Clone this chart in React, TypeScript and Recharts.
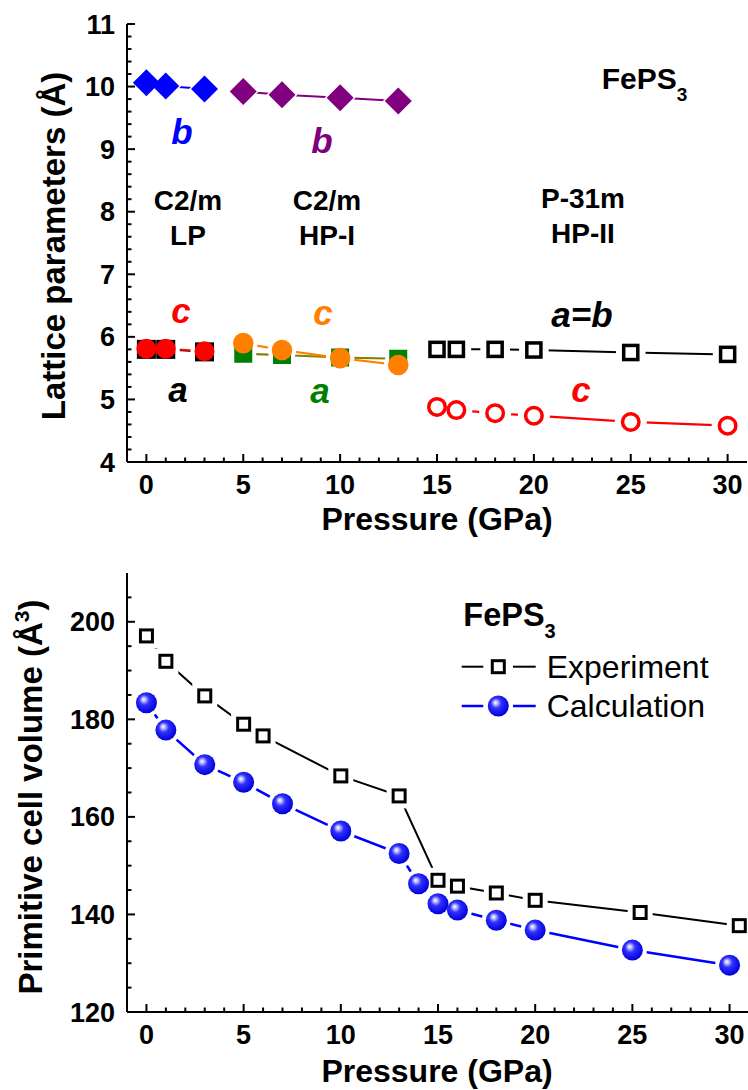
import React from "react";
import { LineChart, Line, XAxis, YAxis, Legend } from "recharts";

// lattice parameters (Å) against pressure (GPa)
const lpP = [0, 1, 3];
const lpA = [5.8, 5.8, 5.76];
const lpB = [10.06, 10.01, 9.96];
const lpC = [5.81, 5.81, 5.77];

const hp1P = [5, 7, 10, 13];
const hp1A = [5.73, 5.71, 5.67, 5.65];
const hp1B = [9.92, 9.87, 9.82, 9.77];
const hp1C = [5.9, 5.79, 5.66, 5.55];

const hp2P = [15, 16, 18, 20, 25, 30];
const hp2AB = [5.8, 5.8, 5.8, 5.79, 5.75, 5.72];
const hp2C = [4.88, 4.83, 4.78, 4.74, 4.64, 4.58];

// primitive cell volume (Å³)
const expP = [0, 1, 3, 5, 6, 10, 13, 15, 16, 18, 20, 25.4, 30.5];
const expV = [197.1, 191.9, 184.8, 179.0, 176.6, 168.4, 164.3, 147.0, 145.8, 144.4, 142.9, 140.4, 137.7];
const calcP = [0, 1, 3, 5, 7, 10, 13, 14, 15, 16, 18, 20, 25, 30];
const calcV = [183.4, 177.8, 170.7, 167.1, 162.7, 157.1, 152.5, 146.3, 142.2, 140.9, 138.8, 136.8, 132.7, 129.6];

const xMajor = [0, 5, 10, 15, 20, 25, 30];
const latticeMajor = [4, 5, 6, 7, 8, 9, 10, 11];
const volumeMajor = [120, 140, 160, 180, 200];
const legendNames = ["Experiment", "Calculation"];

const xTicks = Array.from({ length: 31 }, (_, i) => i);
const latticeTicks = Array.from({ length: 36 }, (_, i) => +(4 + i * 0.2).toFixed(1));
const volumeTicks = Array.from({ length: 18 }, (_, i) => 120 + i * 5);

const FONT = "'Liberation Sans', Arial, Helvetica, sans-serif";
const toPts = (ps: number[], vs: number[]) => ps.map((p, i) => ({ p, v: vs[i] }));
const isMajor = (v: number, majors: number[]) => majors.some((m) => Math.abs(m - v) < 1e-6);

type Shape = "diamond" | "disc" | "square" | "openSquare" | "openCircle" | "sphere";
interface Series {
  name: string;
  p: number[];
  v: number[];
  color: string;
  line: string;
  width: number;
  shape: Shape;
  size: number;
  sw: number;
  gap: number;
}

const topSeries: Series[] = [
  { name: "lpB", p: lpP, v: lpB, color: "#0000ff", line: "#0000ff", width: 2, shape: "diamond", size: 13.5, sw: 0, gap: 2 },
  { name: "hp1B", p: hp1P, v: hp1B, color: "#800080", line: "#800080", width: 2, shape: "diamond", size: 13.5, sw: 0, gap: 2 },
  { name: "lpA", p: lpP, v: lpA, color: "#000000", line: "#000000", width: 2, shape: "square", size: 9.5, sw: 0, gap: 4 },
  { name: "lpC", p: lpP, v: lpC, color: "#ff0000", line: "#ff0000", width: 2.2, shape: "disc", size: 10, sw: 0, gap: 4 },
  { name: "hp1A", p: hp1P, v: hp1A, color: "#008000", line: "#808000", width: 2.2, shape: "square", size: 9, sw: 0, gap: 4 },
  { name: "hp1C", p: hp1P, v: hp1C, color: "#ff8000", line: "#ff8000", width: 2.2, shape: "disc", size: 10.3, sw: 0, gap: 4 },
  { name: "hp2AB", p: hp2P, v: hp2AB, color: "#000000", line: "#000000", width: 2, shape: "openSquare", size: 8.8, sw: 3.5, gap: 6 },
  { name: "hp2C", p: hp2P, v: hp2C, color: "#ff0000", line: "#ff0000", width: 2.2, shape: "openCircle", size: 10, sw: 3.5, gap: 6 },
];

const bottomSeries: Series[] = [
  { name: "calc", p: calcP, v: calcV, color: "#0000ff", line: "#0000ff", width: 2.5, shape: "sphere", size: 10.5, sw: 0, gap: 4 },
  { name: "exp", p: expP, v: expV, color: "#000000", line: "#000000", width: 2, shape: "openSquare", size: 7.5, sw: 3, gap: 5 },
];

function drawMarker(shape: Shape, cx: number, cy: number, size: number, color: string, sw: number, halo: number, grad = "sphereGrad") {
  const s = size + halo;
  if (halo > 0) {
    if (shape === "diamond") {
      return <polygon points={`${cx},${cy - s} ${cx + s},${cy} ${cx},${cy + s} ${cx - s},${cy}`} fill="#fff" />;
    }
    if (shape === "square" || shape === "openSquare") {
      return <rect x={cx - s} y={cy - s} width={2 * s} height={2 * s} fill="#fff" />;
    }
    return <circle cx={cx} cy={cy} r={s} fill="#fff" />;
  }
  switch (shape) {
    case "diamond":
      return <polygon points={`${cx},${cy - s} ${cx + s},${cy} ${cx},${cy + s} ${cx - s},${cy}`} fill={color} />;
    case "disc":
      return <circle cx={cx} cy={cy} r={s} fill={color} />;
    case "square":
      return <rect x={cx - s} y={cy - s} width={2 * s} height={2 * s} fill={color} />;
    case "openSquare": {
      const h = s - sw / 2;
      return <rect x={cx - h} y={cy - h} width={2 * h} height={2 * h} fill="#fff" stroke={color} strokeWidth={sw} />;
    }
    case "openCircle":
      return <circle cx={cx} cy={cy} r={s - sw / 2} fill="#fff" stroke={color} strokeWidth={sw} />;
    case "sphere":
      return <circle cx={cx} cy={cy} r={s} fill={`url(#${grad})`} />;
  }
}

// lines first, then white halos (the "gap to symbol" look), then the symbols
function renderSeries(list: Series[], xId: string, yId: string) {
  const lines = list.map((s) => (
    <Line
      key={`line-${s.name}`}
      xAxisId={xId}
      yAxisId={yId}
      data={toPts(s.p, s.v)}
      dataKey="v"
      stroke={s.line}
      strokeWidth={s.width}
      dot={false}
      activeDot={false}
      legendType="none"
      isAnimationActive={false}
    />
  ));
  const layer = (kind: "halo" | "mark") =>
    list.map((s) => (
      <Line
        key={`${kind}-${s.name}`}
        xAxisId={xId}
        yAxisId={yId}
        data={toPts(s.p, s.v)}
        dataKey="v"
        stroke="none"
        activeDot={false}
        legendType="none"
        isAnimationActive={false}
        dot={(d: any) => (
          <g key={`${kind}-${s.name}-${d.index}`}>
            {drawMarker(s.shape, d.cx, d.cy, s.size, s.color, s.sw, kind === "halo" ? s.gap : 0)}
          </g>
        )}
      />
    ));
  return [...lines, ...layer("halo"), ...layer("mark")];
}

const tickText = { fontFamily: FONT, fontWeight: 700, fontSize: 27, fill: "#000" } as const;

function BottomTick(props: any) {
  const { x, y, payload, majors } = props;
  const major = isMajor(payload.value, majors);
  return (
    <g>
      <line x1={x} x2={x} y1={y} y2={y - (major ? 8 : 4.5)} stroke="#000" strokeWidth={2} />
      {major && (
        <text x={x} y={y + 32} textAnchor="middle" {...tickText}>
          {payload.value}
        </text>
      )}
    </g>
  );
}

function TopTick(props: any) {
  const { x, y, payload, majors } = props;
  const major = isMajor(payload.value, majors);
  return <line x1={x} x2={x} y1={y} y2={y + (major ? 8 : 4.5)} stroke="#000" strokeWidth={2} />;
}

function LeftTick(props: any) {
  const { x, y, payload, majors } = props;
  const major = isMajor(payload.value, majors);
  return (
    <g>
      <line x1={x} x2={x + (major ? 8 : 4.5)} y1={y} y2={y} stroke="#000" strokeWidth={2} />
      {major && (
        <text x={x - 12} y={y + 9.5} textAnchor="end" {...tickText}>
          {payload.value}
        </text>
      )}
    </g>
  );
}

function RightTick(props: any) {
  const { x, y, payload, majors } = props;
  const major = isMajor(payload.value, majors);
  return <line x1={x} x2={x - (major ? 8 : 4.5)} y1={y} y2={y} stroke="#000" strokeWidth={2} />;
}

const axisLine = { stroke: "#000", strokeWidth: 2 };

function SphereDefs({ id }: { id: string }) {
  return (
    <defs>
      <radialGradient id={id} cx="45%" cy="42%" r="58%" fx="36%" fy="33%">
        <stop offset="0%" stopColor="#ffffff" />
        <stop offset="14%" stopColor="#c8c8ff" />
        <stop offset="42%" stopColor="#3030ff" />
        <stop offset="100%" stopColor="#0000d8" />
      </radialGradient>
    </defs>
  );
}

function VolumeLegend() {
  const rows = [
    { name: legendNames[0], y: 26.7, shape: "openSquare" as Shape, color: "#000000", size: 7.5, sw: 3, width: 2 },
    { name: legendNames[1], y: 66, shape: "sphere" as Shape, color: "#0000ff", size: 10.5, sw: 0, width: 2.5 },
  ];
  return (
    <svg width={270} height={92} style={{ display: "block" }}>
      <SphereDefs id="sphereGradLegend" />
      {rows.map((r) => (
        <g key={r.name}>
          <line x1={6.7} x2={28.3} y1={r.y} y2={r.y} stroke={r.color} strokeWidth={r.width} />
          <line x1={58} x2={80.7} y1={r.y} y2={r.y} stroke={r.color} strokeWidth={r.width} />
          {drawMarker(r.shape, 43.3, r.y, r.size, r.color, r.sw, 0, "sphereGradLegend")}
          <text x={91.7} y={r.y + 11} fontFamily={FONT} fontSize={32} fill="#000">
            {r.name}
          </text>
        </g>
      ))}
    </svg>
  );
}

const bold = { fontFamily: FONT, fontWeight: 700, fill: "#000" } as const;
const ital = { fontFamily: FONT, fontWeight: 700, fontStyle: "italic", fontSize: 35, textAnchor: "middle" } as const;

function Axes({ yDomain, yTicks, yMajors }: { yDomain: [number, number]; yTicks: number[]; yMajors: number[] }) {
  return null;
}

export default function App() {
  const xProps = {
    type: "number" as const,
    dataKey: "p",
    domain: [-1, 31] as [number, number],
    ticks: xTicks,
    interval: 0 as const,
    tickSize: 0,
    tickMargin: 0,
    axisLine,
  };
  return (
    <div style={{ position: "absolute", left: 0, top: 0, width: 748, height: 1090, background: "#fff" }}>
      <div style={{ position: "absolute", left: 0, top: 0 }}>
        <LineChart width={748} height={545} margin={{ top: 24, right: 1, bottom: 23, left: 0 }}>
          <XAxis xAxisId="b" {...xProps} height={60} tick={(t: any) => <BottomTick {...t} majors={xMajor} />} />
          <XAxis xAxisId="t" orientation="top" {...xProps} height={0} tick={(t: any) => <TopTick {...t} majors={xMajor} />} />
          <YAxis
            yAxisId="l"
            type="number"
            domain={[4, 11]}
            ticks={latticeTicks}
            interval={0}
            tickSize={0}
            tickMargin={0}
            width={127}
            axisLine={axisLine}
            tick={(t: any) => <LeftTick {...t} majors={latticeMajor} />}
          />
          <YAxis
            yAxisId="r"
            orientation="right"
            type="number"
            domain={[4, 11]}
            ticks={latticeTicks}
            interval={0}
            tickSize={0}
            tickMargin={0}
            width={0}
            axisLine={axisLine}
            tick={(t: any) => <RightTick {...t} majors={latticeMajor} />}
          />
          <Line
            xAxisId="t"
            yAxisId="r"
            data={toPts(hp2P, hp2AB)}
            dataKey="v"
            stroke="none"
            dot={false}
            activeDot={false}
            legendType="none"
            isAnimationActive={false}
          />
          {renderSeries(topSeries, "b", "l")}
        </LineChart>
      </div>

      <div style={{ position: "absolute", left: 0, top: 545 }}>
        <LineChart width={748} height={545} margin={{ top: 28, right: -1, bottom: 18, left: 0 }}>
          <SphereDefs id="sphereGrad" />
          <XAxis xAxisId="b" {...xProps} height={60} tick={(t: any) => <BottomTick {...t} majors={xMajor} />} />
          <XAxis xAxisId="t" orientation="top" {...xProps} height={0} tick={(t: any) => <TopTick {...t} majors={xMajor} />} />
          <YAxis
            yAxisId="l"
            type="number"
            domain={[120, 210]}
            ticks={volumeTicks}
            interval={0}
            tickSize={0}
            tickMargin={0}
            width={127}
            axisLine={axisLine}
            tick={(t: any) => <LeftTick {...t} majors={volumeMajor} />}
          />
          <YAxis
            yAxisId="r"
            orientation="right"
            type="number"
            domain={[120, 210]}
            ticks={volumeTicks}
            interval={0}
            tickSize={0}
            tickMargin={0}
            width={0}
            axisLine={axisLine}
            tick={(t: any) => <RightTick {...t} majors={volumeMajor} />}
          />
          <Line
            xAxisId="t"
            yAxisId="r"
            data={toPts(expP, expV)}
            dataKey="v"
            stroke="none"
            dot={false}
            activeDot={false}
            legendType="none"
            isAnimationActive={false}
          />
          {renderSeries(bottomSeries, "b", "l")}
          <Legend
            layout="horizontal"
            verticalAlign="middle"
            align="center"
            wrapperStyle={{ left: 455, top: 95, width: 270, height: 92 }}
            content={() => <VolumeLegend />}
          />
        </LineChart>
      </div>

      <svg width={748} height={1090} style={{ position: "absolute", left: 0, top: 0, pointerEvents: "none" }}>
        {/* axis titles */}
        <text {...bold} fontSize={33} x={65} y={246} textAnchor="middle" transform="rotate(-90, 65, 246)">
          Lattice parameters (Å)
        </text>
        <text {...bold} fontSize={32} x={437} y={530} textAnchor="middle">
          Pressure (GPa)
        </text>
        <text {...bold} fontSize={33} x={42} y={797} textAnchor="middle" transform="rotate(-90, 42, 797)">
          Primitive cell volume (Å
          <tspan fontSize={21} dy={-13}>
            3
          </tspan>
          <tspan dy={13}>)</tspan>
        </text>
        <text {...bold} fontSize={32} x={437} y={1082} textAnchor="middle">
          Pressure (GPa)
        </text>

        {/* compound labels */}
        <text {...bold} fontSize={30} x={601.7} y={89.3}>
          FePS<tspan fontSize={19} dy={12}>3</tspan>
        </text>
        <text {...bold} fontSize={32.5} x={463.3} y={626}>
          FePS<tspan fontSize={20} dy={12}>3</tspan>
        </text>

        {/* phase labels */}
        <text {...bold} fontSize={28} x={188} y={210} textAnchor="middle">C2/m</text>
        <text {...bold} fontSize={28} x={188} y={245} textAnchor="middle">LP</text>
        <text {...bold} fontSize={28} x={327} y={210} textAnchor="middle">C2/m</text>
        <text {...bold} fontSize={28} x={327} y={245} textAnchor="middle">HP-I</text>
        <text {...bold} fontSize={28} x={583} y={208.3} textAnchor="middle">P-31m</text>
        <text {...bold} fontSize={28} x={583} y={243.3} textAnchor="middle">HP-II</text>

        {/* parameter letters */}
        <text {...ital} fill="#0000ff" x={182} y={144}>b</text>
        <text {...ital} fill="#800080" x={322} y={153}>b</text>
        <text {...ital} fill="#ff0000" x={181} y={323}>c</text>
        <text {...ital} fill="#ff8000" x={323} y={325}>c</text>
        <text {...ital} fill="#000000" x={178} y={401.5}>a</text>
        <text {...ital} fill="#008000" x={320} y={403}>a</text>
        <text {...ital} fill="#000000" x={582} y={326.7}>a=b</text>
        <text {...ital} fill="#ff0000" x={581} y={401.5}>c</text>
      </svg>
    </div>
  );
}
